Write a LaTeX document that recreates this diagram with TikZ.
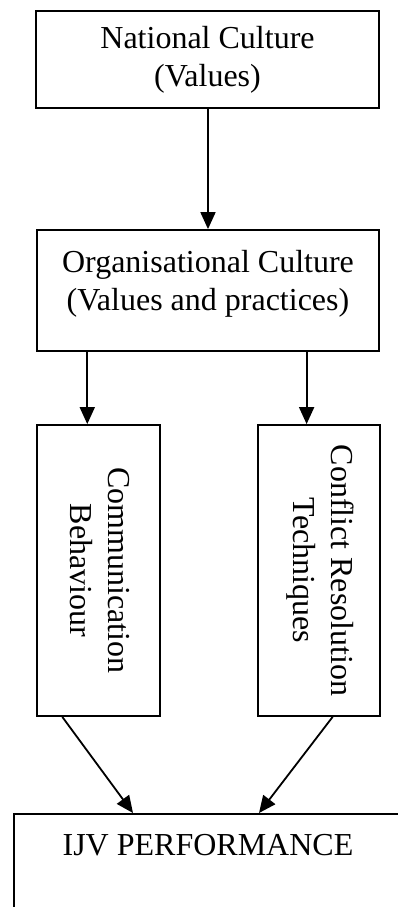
\documentclass[tikz,border=0pt]{standalone}
\usepackage{fontspec}
\setmainfont{Liberation Serif}
\usetikzlibrary{arrows.meta,calc}

\tikzset{
  box/.style={draw, line width=1.8pt, inner sep=0pt},
  txt/.style={align=center, inner sep=0pt, font=\fontsize{32}{38}\selectfont},
  vtxt/.style={txt, rotate=-90},
  arr/.style={line width=1.8pt, -{Triangle[length=17pt, width=15pt]}},
}

\begin{document}
\begin{tikzpicture}[x=1pt, y=-1pt]
  \useasboundingbox (0,0) rectangle (397,907);

  % top two boxes
  \node[box, minimum width=343, minimum height=97] (b1) at (207.5,59.5) {};
  \node[txt] at (b1.center) {National Culture\\(Values)};

  \node[box, minimum width=342, minimum height=121] (b2) at (208,290.5) {};
  \node[txt] at ($(b2.center)+(0,-7)$) {Organisational Culture\\(Values and practices)};

  % the two tall boxes with vertical text
  \node[box, minimum width=123, minimum height=291] (b3) at (98.5,570.5) {};
  \node[vtxt] at ($(b3.center)+(1.5,0)$) {Communication\\Behaviour};

  \node[box, minimum width=122, minimum height=291] (b4) at (319,570.5) {};
  \node[vtxt] at ($(b4.center)+(1,0)$) {Conflict Resolution\\Techniques};

  % performance box, running off the page at right and bottom
  \node[draw, line width=1.5pt, inner sep=0pt, anchor=north west,
        minimum width=395, minimum height=140] (b5) at (13,813) {};
  \node[txt] at (208,845) {IJV PERFORMANCE};

  % connection points on the boxes
  \coordinate (p3) at ($(b3.north west)!0.41!(b3.north east)$);
  \coordinate (p4) at ($(b4.north west)!0.40!(b4.north east)$);
  \coordinate (q3) at ($(b3.south west)!0.21!(b3.south east)$);
  \coordinate (q4) at ($(b4.south west)!0.61!(b4.south east)$);
  \coordinate (r3) at ($(b5.north west)+(120,0)$);
  \coordinate (r4) at ($(b5.north west)+(246,0)$);

  % arrows
  \draw[arr] (b1.south -| b2.north) -- (b2.north);
  \draw[arr] (b2.south -| p3) -- (p3);
  \draw[arr] (b2.south -| p4) -- (p4);
  \draw[arr] (q3) -- (r3);
  \draw[arr] (q4) -- (r4);
\end{tikzpicture}
\end{document}
